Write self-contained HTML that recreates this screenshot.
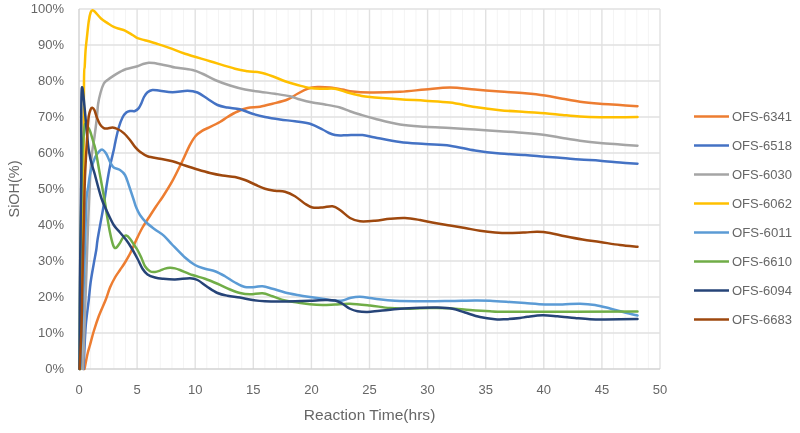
<!DOCTYPE html>
<html><head><meta charset="utf-8"><title>Chart</title>
<style>html,body{margin:0;padding:0;background:#fff}svg{display:block}text{font-family:"Liberation Sans",sans-serif;fill:#666}</style></head>
<body>
<svg width="800" height="433" viewBox="0 0 800 433">
<rect width="800" height="433" fill="#fff"/>
<path d="M90.62,9.0V369.0M102.24,9.0V369.0M113.86,9.0V369.0M125.48,9.0V369.0M148.72,9.0V369.0M160.34,9.0V369.0M171.96,9.0V369.0M183.58,9.0V369.0M206.82,9.0V369.0M218.44,9.0V369.0M230.06,9.0V369.0M241.68,9.0V369.0M264.92,9.0V369.0M276.54,9.0V369.0M288.16,9.0V369.0M299.78,9.0V369.0M323.02,9.0V369.0M334.64,9.0V369.0M346.26,9.0V369.0M357.88,9.0V369.0M381.12,9.0V369.0M392.74,9.0V369.0M404.36,9.0V369.0M415.98,9.0V369.0M439.22,9.0V369.0M450.84,9.0V369.0M462.46,9.0V369.0M474.08,9.0V369.0M497.32,9.0V369.0M508.94,9.0V369.0M520.56,9.0V369.0M532.18,9.0V369.0M555.42,9.0V369.0M567.04,9.0V369.0M578.66,9.0V369.0M590.28,9.0V369.0M613.52,9.0V369.0M625.14,9.0V369.0M636.76,9.0V369.0M648.38,9.0V369.0" stroke="#f4f4f4" stroke-width="1" fill="none"/>
<path d="M137.10,9.0V369.0M195.20,9.0V369.0M253.30,9.0V369.0M311.40,9.0V369.0M369.50,9.0V369.0M427.60,9.0V369.0M485.70,9.0V369.0M543.80,9.0V369.0M601.90,9.0V369.0M660.00,9.0V369.0M79.0,333.00H660.0M79.0,297.00H660.0M79.0,261.00H660.0M79.0,225.00H660.0M79.0,189.00H660.0M79.0,153.00H660.0M79.0,117.00H660.0M79.0,81.00H660.0M79.0,45.00H660.0M79.0,9.00H660.0" stroke="#e1e1e1" stroke-width="1.4" fill="none"/>
<path d="M79.0,9.0V369.0H660.0" stroke="#d2d2d2" stroke-width="1.4" fill="none"/>
<path d="M84.50,369.00 C85.00,366.50 86.58,358.00 87.50,354.00 C88.42,350.00 88.96,348.79 90.00,345.00 C91.04,341.21 92.29,336.04 93.75,331.25 C95.21,326.46 96.78,321.46 98.75,316.25 C100.72,311.04 103.72,304.79 105.60,300.00 C107.47,295.21 108.43,291.25 110.00,287.50 C111.57,283.75 113.33,280.42 115.00,277.50 C116.67,274.58 118.33,272.50 120.00,270.00 C121.67,267.50 123.23,265.42 125.00,262.50 C126.77,259.58 128.72,256.25 130.60,252.50 C132.47,248.75 134.27,244.17 136.25,240.00 C138.23,235.83 140.34,231.33 142.50,227.50 C144.66,223.67 146.95,220.50 149.20,217.00 C151.45,213.50 153.68,209.97 156.00,206.50 C158.32,203.03 160.38,200.42 163.10,196.20 C165.82,191.98 169.22,186.78 172.30,181.20 C175.38,175.62 178.70,168.67 181.60,162.70 C184.50,156.73 187.40,149.82 189.70,145.40 C192.00,140.98 193.28,138.67 195.40,136.20 C197.52,133.73 200.08,132.07 202.40,130.60 C204.72,129.13 206.38,128.83 209.30,127.40 C212.22,125.97 216.87,123.73 219.90,122.00 C222.93,120.27 224.57,118.75 227.50,117.00 C230.43,115.25 234.17,113.00 237.50,111.50 C240.83,110.00 243.75,108.79 247.50,108.00 C251.25,107.21 255.83,107.46 260.00,106.75 C264.17,106.04 267.92,104.96 272.50,103.75 C277.08,102.54 283.33,101.17 287.50,99.50 C291.67,97.83 294.17,95.54 297.50,93.75 C300.83,91.96 304.17,89.88 307.50,88.75 C310.83,87.62 313.75,87.21 317.50,87.00 C321.25,86.79 325.83,87.08 330.00,87.50 C334.17,87.92 339.17,88.88 342.50,89.50 C345.83,90.12 345.42,90.75 350.00,91.25 C354.58,91.75 361.67,92.42 370.00,92.50 C378.33,92.58 390.83,92.25 400.00,91.75 C409.17,91.25 416.67,90.21 425.00,89.50 C433.33,88.79 441.67,87.50 450.00,87.50 C458.33,87.50 466.67,88.83 475.00,89.50 C483.33,90.17 491.67,90.88 500.00,91.50 C508.33,92.12 517.50,92.58 525.00,93.25 C532.50,93.92 538.75,94.58 545.00,95.50 C551.25,96.42 556.67,97.71 562.50,98.75 C568.33,99.79 573.75,100.92 580.00,101.75 C586.25,102.58 593.33,103.21 600.00,103.75 C606.67,104.29 613.75,104.58 620.00,105.00 C626.25,105.42 634.58,106.04 637.50,106.25" stroke="#ED7D31" stroke-width="2.5" fill="none" stroke-linejoin="round" stroke-linecap="round"/>
<path d="M83.50,369.00 C83.62,366.50 83.82,361.33 84.20,354.00 C84.58,346.67 85.04,334.00 85.80,325.00 C86.56,316.00 87.95,307.08 88.75,300.00 C89.55,292.92 89.77,288.54 90.60,282.50 C91.43,276.46 92.81,269.17 93.75,263.75 C94.69,258.33 95.62,253.96 96.25,250.00 C96.88,246.04 96.78,244.58 97.50,240.00 C98.22,235.42 99.56,228.33 100.60,222.50 C101.64,216.67 102.70,211.46 103.75,205.00 C104.80,198.54 105.86,190.21 106.90,183.75 C107.94,177.29 108.86,171.88 110.00,166.25 C111.14,160.62 112.83,154.17 113.75,150.00 C114.67,145.83 114.67,145.00 115.50,141.25 C116.33,137.50 117.58,131.46 118.75,127.50 C119.92,123.54 121.25,120.00 122.50,117.50 C123.75,115.00 125.00,113.58 126.25,112.50 C127.50,111.42 128.54,111.25 130.00,111.00 C131.46,110.75 133.54,111.48 135.00,111.00 C136.46,110.52 137.67,109.43 138.75,108.10 C139.83,106.77 140.62,104.85 141.50,103.00 C142.38,101.15 143.00,98.78 144.00,97.00 C145.00,95.22 146.08,93.47 147.50,92.30 C148.92,91.13 150.42,90.25 152.50,90.00 C154.58,89.75 156.67,90.42 160.00,90.80 C163.33,91.18 167.92,92.31 172.50,92.30 C177.08,92.29 183.33,90.72 187.50,90.75 C191.67,90.78 194.17,91.17 197.50,92.50 C200.83,93.83 204.17,96.67 207.50,98.75 C210.83,100.83 214.17,103.54 217.50,105.00 C220.83,106.46 223.75,106.79 227.50,107.50 C231.25,108.21 235.83,108.21 240.00,109.25 C244.17,110.29 248.33,112.46 252.50,113.75 C256.67,115.04 260.42,116.04 265.00,117.00 C269.58,117.96 275.00,118.79 280.00,119.50 C285.00,120.21 290.00,120.54 295.00,121.25 C300.00,121.96 305.42,122.38 310.00,123.75 C314.58,125.12 319.33,127.96 322.50,129.50 C325.67,131.04 326.92,132.08 329.00,133.00 C331.08,133.92 333.00,134.60 335.00,135.00 C337.00,135.40 338.92,135.37 341.00,135.40 C343.08,135.43 343.92,135.27 347.50,135.20 C351.08,135.13 357.92,134.62 362.50,135.00 C367.08,135.38 368.75,136.33 375.00,137.50 C381.25,138.67 391.67,140.92 400.00,142.00 C408.33,143.08 416.67,143.38 425.00,144.00 C433.33,144.62 441.67,144.62 450.00,145.70 C458.33,146.78 466.67,149.20 475.00,150.50 C483.33,151.80 491.67,152.75 500.00,153.50 C508.33,154.25 517.50,154.46 525.00,155.00 C532.50,155.54 538.75,156.25 545.00,156.75 C551.25,157.25 556.67,157.54 562.50,158.00 C568.33,158.46 573.75,159.04 580.00,159.50 C586.25,159.96 593.33,160.25 600.00,160.75 C606.67,161.25 613.75,162.00 620.00,162.50 C626.25,163.00 634.58,163.54 637.50,163.75" stroke="#4472C4" stroke-width="2.5" fill="none" stroke-linejoin="round" stroke-linecap="round"/>
<path d="M83.00,369.00 C83.25,362.00 83.96,342.33 84.50,327.00 C85.04,311.67 85.67,293.67 86.25,277.00 C86.83,260.33 87.38,243.17 88.00,227.00 C88.62,210.83 89.35,192.17 90.00,180.00 C90.65,167.83 91.17,161.08 91.90,154.00 C92.63,146.92 93.57,143.58 94.40,137.50 C95.23,131.42 96.28,123.08 96.90,117.50 C97.52,111.92 97.48,108.17 98.10,104.00 C98.72,99.83 99.66,95.88 100.60,92.50 C101.54,89.12 102.60,85.83 103.75,83.75 C104.90,81.67 105.83,81.36 107.50,80.00 C109.17,78.64 111.67,76.95 113.75,75.60 C115.83,74.25 117.92,73.00 120.00,71.90 C122.08,70.80 123.33,69.94 126.25,69.00 C129.17,68.06 134.71,67.08 137.50,66.25 C140.29,65.42 141.12,64.59 143.00,64.00 C144.88,63.41 146.92,62.85 148.75,62.70 C150.58,62.55 152.12,62.83 154.00,63.10 C155.88,63.37 157.33,63.77 160.00,64.30 C162.67,64.83 167.50,65.72 170.00,66.25 C172.50,66.78 171.25,66.88 175.00,67.50 C178.75,68.12 187.92,68.96 192.50,70.00 C197.08,71.04 198.75,72.08 202.50,73.75 C206.25,75.42 210.42,78.04 215.00,80.00 C219.58,81.96 225.00,83.92 230.00,85.50 C235.00,87.08 240.00,88.46 245.00,89.50 C250.00,90.54 255.00,91.04 260.00,91.75 C265.00,92.46 270.00,93.00 275.00,93.75 C280.00,94.50 285.83,95.29 290.00,96.25 C294.17,97.21 296.25,98.46 300.00,99.50 C303.75,100.54 308.33,101.67 312.50,102.50 C316.67,103.33 320.42,103.67 325.00,104.50 C329.58,105.33 335.83,106.38 340.00,107.50 C344.17,108.62 346.67,110.08 350.00,111.25 C353.33,112.42 355.83,113.25 360.00,114.50 C364.17,115.75 368.33,117.08 375.00,118.75 C381.67,120.42 391.67,123.17 400.00,124.50 C408.33,125.83 416.67,126.17 425.00,126.75 C433.33,127.33 441.67,127.54 450.00,128.00 C458.33,128.46 466.67,128.96 475.00,129.50 C483.33,130.04 491.67,130.67 500.00,131.25 C508.33,131.83 517.50,132.38 525.00,133.00 C532.50,133.62 538.75,134.17 545.00,135.00 C551.25,135.83 556.67,137.04 562.50,138.00 C568.33,138.96 573.75,139.92 580.00,140.75 C586.25,141.58 593.33,142.38 600.00,143.00 C606.67,143.62 613.75,144.04 620.00,144.50 C626.25,144.96 634.58,145.54 637.50,145.75" stroke="#A5A5A5" stroke-width="2.5" fill="none" stroke-linejoin="round" stroke-linecap="round"/>
<path d="M80.50,369.00 C80.92,345.33 82.50,259.00 83.00,227.00 C83.50,195.00 83.33,201.33 83.50,177.00 C83.67,152.67 83.79,99.46 84.00,81.00 C84.21,62.54 84.48,71.42 84.75,66.25 C85.02,61.08 85.24,54.79 85.60,50.00 C85.96,45.21 86.38,42.29 86.90,37.50 C87.43,32.71 88.13,25.42 88.75,21.25 C89.37,17.08 89.97,14.33 90.60,12.50 C91.22,10.67 91.77,10.35 92.50,10.25 C93.23,10.15 93.54,10.48 95.00,11.90 C96.46,13.32 99.17,16.88 101.25,18.75 C103.33,20.62 105.42,21.74 107.50,23.10 C109.58,24.46 111.67,25.92 113.75,26.90 C115.83,27.88 118.12,28.38 120.00,29.00 C121.88,29.62 122.92,29.60 125.00,30.60 C127.08,31.60 130.42,33.75 132.50,35.00 C134.58,36.25 135.42,37.23 137.50,38.10 C139.58,38.98 141.67,39.27 145.00,40.25 C148.33,41.23 153.33,42.69 157.50,44.00 C161.67,45.31 165.42,46.48 170.00,48.10 C174.58,49.73 178.33,51.56 185.00,53.75 C191.67,55.94 201.67,58.75 210.00,61.25 C218.33,63.75 228.75,67.08 235.00,68.75 C241.25,70.42 243.33,70.62 247.50,71.25 C251.67,71.88 255.83,71.67 260.00,72.50 C264.17,73.33 268.33,74.79 272.50,76.25 C276.67,77.71 280.83,79.79 285.00,81.25 C289.17,82.71 293.33,83.88 297.50,85.00 C301.67,86.12 305.83,87.38 310.00,88.00 C314.17,88.62 318.33,88.62 322.50,88.75 C326.67,88.88 330.83,88.12 335.00,88.75 C339.17,89.38 343.33,91.38 347.50,92.50 C351.67,93.62 356.25,94.75 360.00,95.50 C363.75,96.25 363.33,96.38 370.00,97.00 C376.67,97.62 390.83,98.62 400.00,99.25 C409.17,99.88 416.67,100.21 425.00,100.75 C433.33,101.29 441.67,101.46 450.00,102.50 C458.33,103.54 466.67,105.72 475.00,107.00 C483.33,108.28 491.67,109.37 500.00,110.20 C508.33,111.03 517.50,111.49 525.00,112.00 C532.50,112.51 538.75,112.75 545.00,113.25 C551.25,113.75 556.67,114.46 562.50,115.00 C568.33,115.54 573.75,116.12 580.00,116.50 C586.25,116.88 593.33,117.12 600.00,117.25 C606.67,117.38 613.75,117.29 620.00,117.25 C626.25,117.21 634.58,117.04 637.50,117.00" stroke="#FFC000" stroke-width="2.5" fill="none" stroke-linejoin="round" stroke-linecap="round"/>
<path d="M80.50,369.00 C81.08,353.67 83.04,304.50 84.00,277.00 C84.96,249.50 85.57,218.92 86.25,204.00 C86.93,189.08 87.38,192.96 88.10,187.50 C88.82,182.04 89.45,176.25 90.60,171.25 C91.75,166.25 93.64,160.72 95.00,157.50 C96.36,154.28 97.53,153.22 98.75,151.90 C99.97,150.58 101.05,149.29 102.30,149.60 C103.55,149.91 104.97,151.70 106.25,153.75 C107.53,155.80 108.75,159.61 110.00,161.90 C111.25,164.19 112.08,166.15 113.75,167.50 C115.42,168.85 118.12,168.75 120.00,170.00 C121.88,171.25 123.54,172.50 125.00,175.00 C126.46,177.50 127.50,181.46 128.75,185.00 C130.00,188.54 131.67,193.75 132.50,196.25 C133.33,198.75 133.12,198.12 133.75,200.00 C134.38,201.88 135.21,205.00 136.25,207.50 C137.29,210.00 138.33,212.50 140.00,215.00 C141.67,217.50 143.75,220.10 146.25,222.50 C148.75,224.90 152.08,227.22 155.00,229.40 C157.92,231.58 160.83,233.00 163.75,235.60 C166.67,238.20 168.96,241.35 172.50,245.00 C176.04,248.65 181.25,254.17 185.00,257.50 C188.75,260.83 191.67,263.12 195.00,265.00 C198.33,266.88 201.67,267.71 205.00,268.75 C208.33,269.79 211.67,270.00 215.00,271.25 C218.33,272.50 221.67,274.38 225.00,276.25 C228.33,278.12 231.67,280.71 235.00,282.50 C238.33,284.29 241.67,286.25 245.00,287.00 C248.33,287.75 252.08,287.12 255.00,287.00 C257.92,286.88 259.58,285.96 262.50,286.25 C265.42,286.54 268.75,287.71 272.50,288.75 C276.25,289.79 280.83,291.46 285.00,292.50 C289.17,293.54 293.33,294.25 297.50,295.00 C301.67,295.75 305.83,296.38 310.00,297.00 C314.17,297.62 318.33,298.17 322.50,298.75 C326.67,299.33 331.67,300.21 335.00,300.50 C338.33,300.79 340.00,300.92 342.50,300.50 C345.00,300.08 347.08,298.62 350.00,298.00 C352.92,297.38 355.83,296.62 360.00,296.75 C364.17,296.88 369.17,298.08 375.00,298.75 C380.83,299.42 386.67,300.33 395.00,300.75 C403.33,301.17 415.83,301.21 425.00,301.25 C434.17,301.29 441.67,301.12 450.00,301.00 C458.33,300.88 468.33,300.54 475.00,300.50 C481.67,300.46 484.17,300.50 490.00,300.75 C495.83,301.00 504.17,301.61 510.00,302.00 C515.83,302.39 519.17,302.68 525.00,303.10 C530.83,303.52 538.75,304.28 545.00,304.50 C551.25,304.72 556.67,304.52 562.50,304.40 C568.33,304.27 574.58,303.65 580.00,303.75 C585.42,303.85 590.00,304.21 595.00,305.00 C600.00,305.79 605.00,307.25 610.00,308.50 C615.00,309.75 620.42,311.33 625.00,312.50 C629.58,313.67 635.42,315.00 637.50,315.50" stroke="#5B9BD5" stroke-width="2.5" fill="none" stroke-linejoin="round" stroke-linecap="round"/>
<path d="M79.60,369.00 C79.70,353.67 79.92,305.17 80.20,277.00 C80.48,248.83 80.90,221.17 81.30,200.00 C81.70,178.83 82.07,162.08 82.60,150.00 C83.13,137.92 83.93,131.75 84.50,127.50 C85.07,123.25 85.08,123.92 86.00,124.50 C86.92,125.08 88.82,128.21 90.00,131.00 C91.18,133.79 92.17,138.08 93.10,141.25 C94.03,144.42 94.45,144.38 95.60,150.00 C96.75,155.62 98.43,166.25 100.00,175.00 C101.57,183.75 103.85,195.83 105.00,202.50 C106.15,209.17 106.07,210.00 106.90,215.00 C107.73,220.00 108.97,227.50 110.00,232.50 C111.03,237.50 112.17,242.40 113.10,245.00 C114.03,247.60 114.55,248.31 115.60,248.10 C116.65,247.89 118.15,245.52 119.40,243.75 C120.65,241.98 121.96,238.86 123.10,237.50 C124.24,236.14 125.10,235.39 126.25,235.60 C127.40,235.81 128.54,236.97 130.00,238.75 C131.46,240.53 133.75,244.38 135.00,246.25 C136.25,248.12 136.46,248.12 137.50,250.00 C138.54,251.88 140.00,254.79 141.25,257.50 C142.50,260.21 143.54,263.96 145.00,266.25 C146.46,268.54 148.33,270.31 150.00,271.25 C151.67,272.19 153.33,272.01 155.00,271.90 C156.67,271.79 158.33,271.15 160.00,270.60 C161.67,270.05 163.33,269.07 165.00,268.60 C166.67,268.13 168.33,267.83 170.00,267.80 C171.67,267.77 173.33,268.03 175.00,268.40 C176.67,268.77 177.08,268.90 180.00,270.00 C182.92,271.10 188.33,273.54 192.50,275.00 C196.67,276.46 200.83,277.29 205.00,278.75 C209.17,280.21 213.33,281.96 217.50,283.75 C221.67,285.54 226.25,287.96 230.00,289.50 C233.75,291.04 236.67,292.21 240.00,293.00 C243.33,293.79 246.25,294.21 250.00,294.25 C253.75,294.29 258.75,292.92 262.50,293.25 C266.25,293.58 268.75,295.04 272.50,296.25 C276.25,297.46 280.83,299.46 285.00,300.50 C289.17,301.54 293.33,301.88 297.50,302.50 C301.67,303.12 305.83,303.83 310.00,304.25 C314.17,304.67 318.33,304.96 322.50,305.00 C326.67,305.04 330.42,304.71 335.00,304.50 C339.58,304.29 344.17,303.58 350.00,303.75 C355.83,303.92 363.33,304.79 370.00,305.50 C376.67,306.21 383.33,307.46 390.00,308.00 C396.67,308.54 403.33,308.75 410.00,308.75 C416.67,308.75 423.33,308.08 430.00,308.00 C436.67,307.92 443.33,307.92 450.00,308.25 C456.67,308.58 463.33,309.50 470.00,310.00 C476.67,310.50 483.33,310.96 490.00,311.25 C496.67,311.54 485.42,311.71 510.00,311.75 C534.58,311.79 616.25,311.54 637.50,311.50" stroke="#70AD47" stroke-width="2.5" fill="none" stroke-linejoin="round" stroke-linecap="round"/>
<path d="M79.50,369.00 C79.58,353.67 79.71,309.00 80.00,277.00 C80.29,245.00 80.93,208.58 81.25,177.00 C81.57,145.42 80.65,92.00 81.90,87.50 C83.15,83.00 86.57,135.42 88.75,150.00 C90.93,164.58 92.88,166.92 95.00,175.00 C97.12,183.08 99.42,192.25 101.50,198.50 C103.58,204.75 105.46,208.08 107.50,212.50 C109.54,216.92 111.67,221.67 113.75,225.00 C115.83,228.33 117.92,230.00 120.00,232.50 C122.08,235.00 124.38,237.50 126.25,240.00 C128.12,242.50 129.38,244.38 131.25,247.50 C133.12,250.62 135.62,255.21 137.50,258.75 C139.38,262.29 140.83,266.14 142.50,268.75 C144.17,271.36 145.42,272.94 147.50,274.40 C149.58,275.86 152.50,276.77 155.00,277.50 C157.50,278.23 159.17,278.42 162.50,278.75 C165.83,279.08 170.42,279.58 175.00,279.50 C179.58,279.42 186.25,278.17 190.00,278.25 C193.75,278.33 194.58,278.54 197.50,280.00 C200.42,281.46 204.17,284.83 207.50,287.00 C210.83,289.17 214.17,291.54 217.50,293.00 C220.83,294.46 223.75,295.00 227.50,295.75 C231.25,296.50 235.83,296.79 240.00,297.50 C244.17,298.21 248.33,299.38 252.50,300.00 C256.67,300.62 260.42,301.00 265.00,301.25 C269.58,301.50 275.00,301.50 280.00,301.50 C285.00,301.50 290.00,301.38 295.00,301.25 C300.00,301.12 305.00,300.96 310.00,300.75 C315.00,300.54 320.83,300.04 325.00,300.00 C329.17,299.96 332.08,299.88 335.00,300.50 C337.92,301.12 340.00,302.38 342.50,303.75 C345.00,305.12 347.50,307.50 350.00,308.75 C352.50,310.00 354.58,310.71 357.50,311.25 C360.42,311.79 363.75,312.08 367.50,312.00 C371.25,311.92 374.58,311.29 380.00,310.75 C385.42,310.21 393.33,309.25 400.00,308.75 C406.67,308.25 413.75,307.96 420.00,307.75 C426.25,307.54 432.08,307.33 437.50,307.50 C442.92,307.67 447.92,307.92 452.50,308.75 C457.08,309.58 460.42,311.12 465.00,312.50 C469.58,313.88 475.00,315.88 480.00,317.00 C485.00,318.12 490.83,318.88 495.00,319.25 C499.17,319.62 500.83,319.46 505.00,319.25 C509.17,319.04 516.25,318.42 520.00,318.00 C523.75,317.58 523.75,317.21 527.50,316.75 C531.25,316.29 537.50,315.33 542.50,315.25 C547.50,315.17 552.08,315.79 557.50,316.25 C562.92,316.71 569.58,317.50 575.00,318.00 C580.42,318.50 585.00,319.00 590.00,319.25 C595.00,319.50 597.08,319.54 605.00,319.50 C612.92,319.46 632.08,319.08 637.50,319.00" stroke="#264478" stroke-width="2.5" fill="none" stroke-linejoin="round" stroke-linecap="round"/>
<path d="M79.70,369.00 C80.00,362.00 81.03,342.33 81.50,327.00 C81.97,311.67 82.12,293.67 82.50,277.00 C82.88,260.33 83.33,243.67 83.75,227.00 C84.17,210.33 84.38,192.96 85.00,177.00 C85.62,161.04 86.88,141.38 87.50,131.25 C88.12,121.12 88.23,119.89 88.75,116.25 C89.27,112.61 90.02,110.82 90.60,109.40 C91.18,107.98 91.62,107.65 92.25,107.75 C92.88,107.85 93.62,108.38 94.40,110.00 C95.18,111.62 95.97,115.10 96.90,117.50 C97.83,119.90 98.86,122.63 100.00,124.40 C101.14,126.17 102.50,127.42 103.75,128.10 C105.00,128.78 106.04,128.60 107.50,128.50 C108.96,128.40 110.83,127.42 112.50,127.50 C114.17,127.58 115.62,128.07 117.50,129.00 C119.38,129.93 121.67,131.27 123.75,133.10 C125.83,134.93 128.12,137.70 130.00,140.00 C131.88,142.30 133.33,144.94 135.00,146.90 C136.67,148.86 137.92,150.19 140.00,151.75 C142.08,153.31 144.17,155.08 147.50,156.25 C150.83,157.42 155.83,157.92 160.00,158.75 C164.17,159.58 168.33,160.12 172.50,161.25 C176.67,162.38 180.83,164.12 185.00,165.50 C189.17,166.88 193.33,168.25 197.50,169.50 C201.67,170.75 205.83,172.00 210.00,173.00 C214.17,174.00 218.33,174.83 222.50,175.50 C226.67,176.17 231.25,176.25 235.00,177.00 C238.75,177.75 241.67,178.75 245.00,180.00 C248.33,181.25 251.67,183.04 255.00,184.50 C258.33,185.96 261.67,187.71 265.00,188.75 C268.33,189.79 271.67,190.25 275.00,190.75 C278.33,191.25 281.67,190.83 285.00,191.75 C288.33,192.67 291.67,194.25 295.00,196.25 C298.33,198.25 302.08,201.88 305.00,203.75 C307.92,205.62 309.58,206.88 312.50,207.50 C315.42,208.12 319.17,207.71 322.50,207.50 C325.83,207.29 329.58,205.83 332.50,206.25 C335.42,206.67 337.08,208.04 340.00,210.00 C342.92,211.96 346.67,216.12 350.00,218.00 C353.33,219.88 355.83,220.79 360.00,221.25 C364.17,221.71 370.00,221.17 375.00,220.75 C380.00,220.33 385.00,219.21 390.00,218.75 C395.00,218.29 400.00,217.79 405.00,218.00 C410.00,218.21 415.00,219.17 420.00,220.00 C425.00,220.83 430.00,222.08 435.00,223.00 C440.00,223.92 445.00,224.67 450.00,225.50 C455.00,226.33 460.00,227.12 465.00,228.00 C470.00,228.88 475.00,230.00 480.00,230.75 C485.00,231.50 490.00,232.12 495.00,232.50 C500.00,232.88 505.00,233.00 510.00,233.00 C515.00,233.00 520.42,232.71 525.00,232.50 C529.58,232.29 533.33,231.67 537.50,231.75 C541.67,231.83 545.42,232.25 550.00,233.00 C554.58,233.75 559.58,235.17 565.00,236.25 C570.42,237.33 576.67,238.54 582.50,239.50 C588.33,240.46 593.75,241.08 600.00,242.00 C606.25,242.92 613.75,244.20 620.00,245.00 C626.25,245.80 634.58,246.50 637.50,246.80" stroke="#9E480E" stroke-width="2.5" fill="none" stroke-linejoin="round" stroke-linecap="round"/>
<text x="64" y="373.2" font-size="13" text-anchor="end">0%</text>
<text x="64" y="337.2" font-size="13" text-anchor="end">10%</text>
<text x="64" y="301.2" font-size="13" text-anchor="end">20%</text>
<text x="64" y="265.2" font-size="13" text-anchor="end">30%</text>
<text x="64" y="229.2" font-size="13" text-anchor="end">40%</text>
<text x="64" y="193.2" font-size="13" text-anchor="end">50%</text>
<text x="64" y="157.2" font-size="13" text-anchor="end">60%</text>
<text x="64" y="121.2" font-size="13" text-anchor="end">70%</text>
<text x="64" y="85.2" font-size="13" text-anchor="end">80%</text>
<text x="64" y="49.2" font-size="13" text-anchor="end">90%</text>
<text x="64" y="13.2" font-size="13" text-anchor="end">100%</text>
<text x="79.0" y="394.1" font-size="13" text-anchor="middle">0</text>
<text x="137.1" y="394.1" font-size="13" text-anchor="middle">5</text>
<text x="195.2" y="394.1" font-size="13" text-anchor="middle">10</text>
<text x="253.3" y="394.1" font-size="13" text-anchor="middle">15</text>
<text x="311.4" y="394.1" font-size="13" text-anchor="middle">20</text>
<text x="369.5" y="394.1" font-size="13" text-anchor="middle">25</text>
<text x="427.6" y="394.1" font-size="13" text-anchor="middle">30</text>
<text x="485.7" y="394.1" font-size="13" text-anchor="middle">35</text>
<text x="543.8" y="394.1" font-size="13" text-anchor="middle">40</text>
<text x="601.9" y="394.1" font-size="13" text-anchor="middle">45</text>
<text x="660.0" y="394.1" font-size="13" text-anchor="middle">50</text>
<text x="369.6" y="420" font-size="14.5" text-anchor="middle" textLength="131.5" lengthAdjust="spacingAndGlyphs">Reaction Time(hrs)</text>
<text transform="translate(19.3,189) rotate(-90)" font-size="14.5" text-anchor="middle" textLength="57" lengthAdjust="spacingAndGlyphs">SiOH(%)</text>
<path d="M694,116.6H729" stroke="#ED7D31" stroke-width="2.5"/>
<text x="732" y="120.6" font-size="13" textLength="60" lengthAdjust="spacingAndGlyphs">OFS-6341</text>
<path d="M694,145.6H729" stroke="#4472C4" stroke-width="2.5"/>
<text x="732" y="149.6" font-size="13" textLength="60" lengthAdjust="spacingAndGlyphs">OFS-6518</text>
<path d="M694,174.6H729" stroke="#A5A5A5" stroke-width="2.5"/>
<text x="732" y="178.6" font-size="13" textLength="60" lengthAdjust="spacingAndGlyphs">OFS-6030</text>
<path d="M694,203.6H729" stroke="#FFC000" stroke-width="2.5"/>
<text x="732" y="207.6" font-size="13" textLength="60" lengthAdjust="spacingAndGlyphs">OFS-6062</text>
<path d="M694,232.6H729" stroke="#5B9BD5" stroke-width="2.5"/>
<text x="732" y="236.6" font-size="13" textLength="60" lengthAdjust="spacingAndGlyphs">OFS-6011</text>
<path d="M694,261.6H729" stroke="#70AD47" stroke-width="2.5"/>
<text x="732" y="265.6" font-size="13" textLength="60" lengthAdjust="spacingAndGlyphs">OFS-6610</text>
<path d="M694,290.6H729" stroke="#264478" stroke-width="2.5"/>
<text x="732" y="294.6" font-size="13" textLength="60" lengthAdjust="spacingAndGlyphs">OFS-6094</text>
<path d="M694,319.6H729" stroke="#9E480E" stroke-width="2.5"/>
<text x="732" y="323.6" font-size="13" textLength="60" lengthAdjust="spacingAndGlyphs">OFS-6683</text>
</svg></body></html>
